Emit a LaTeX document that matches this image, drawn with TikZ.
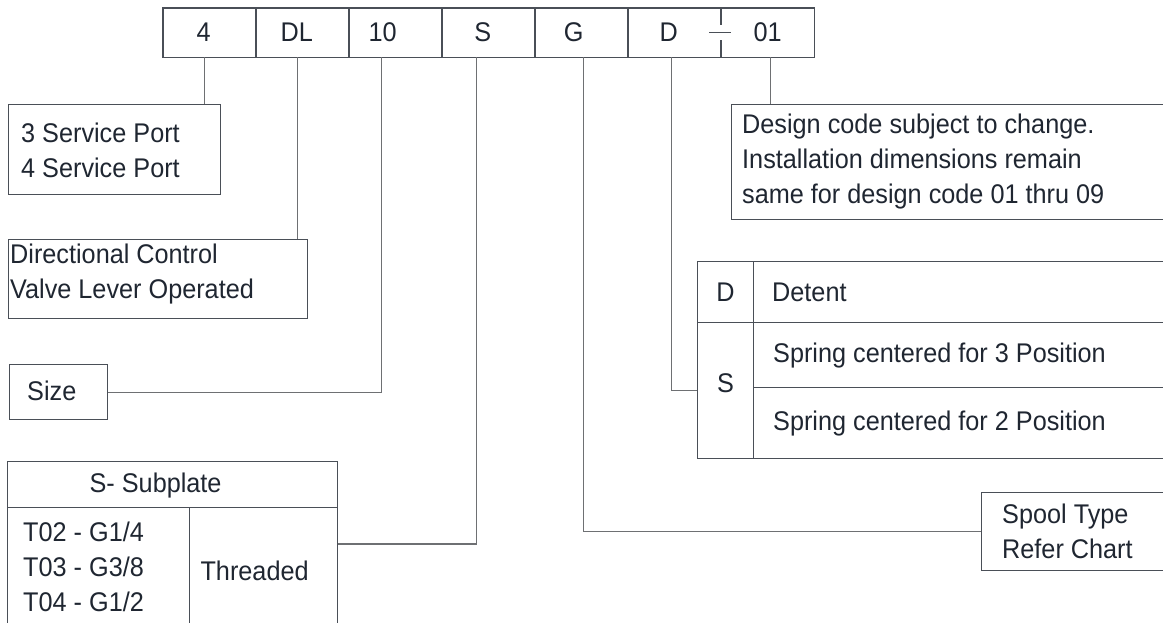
\documentclass[tikz,border=0pt]{standalone}
\usepackage{fontspec}
\usepackage{tikz}
\newfontfamily\tagfamily{Liberation Sans}[FakeStretch=0.935]
\newcommand{\tagfont}{\tagfamily\fontsize{27}{35}\selectfont}
\definecolor{ink}{HTML}{1F2631}
\definecolor{edge}{HTML}{4A4F57}
\definecolor{wire}{HTML}{6E7073}

\begin{document}
\begin{tikzpicture}[x=1pt, y=-1pt, every node/.style={font=\tagfont, text=ink},
  box/.style={draw=edge, line width=1.2pt, inner sep=0pt, anchor=north west},
  cell/.style={minimum width=93pt, minimum height=49pt, inner sep=0pt, anchor=north west},
  lead/.style={draw=wire, line width=1.2pt},
  txt/.style={align=left, anchor=west, inner sep=0pt}]
  \useasboundingbox (0,0) rectangle (1163,623);

  % ordering code strip
  \foreach \i/\code/\dx/\tx in {1/4/-6/-5.5, 2/DL/-6/-5.5, 3/10/-13/-14.5, 4/S/-6/-12.5,
                                5/G/-8/1.5, 6/D/-6/-3.5, 7/01/0/2.5} {
    \node[cell] (c\i) at ({163+93*(\i-1)},8) {};
    \node (k\i) at ([xshift=\dx pt]c\i.center) {\code};
    \coordinate (t\i) at ([xshift=\tx pt]c\i.south);
  }
  \draw[edge, line width=1.2pt] (c1.north west) rectangle (c7.south east);
  \foreach \i in {2,...,6}
    \draw[edge, line width=1.2pt] (c\i.north west) -- (c\i.south west);
  \draw[edge, line width=1.2pt] (c7.north west) -- ++(0,17) (c7.south west) -- ++(0,-17)
    ([xshift=-12pt]c7.west) -- ([xshift=10pt]c7.west);

  % left side
  \node[box, minimum width=212pt, minimum height=90pt] (ports) at (8,104) {};
  \node[txt] (portsTxt) at ([xshift=13pt, yshift=-1pt]ports.west) {3 Service Port\\4 Service Port};
  \node[box, minimum width=299pt, minimum height=79pt] (valve) at (8,239) {};
  \node[txt] (valveTxt) at ([xshift=2pt, yshift=5pt]valve.west) {Directional Control\\Valve Lever Operated};
  \node[box, minimum width=98pt, minimum height=55pt] (size) at (9,364) {};
  \node[txt] (sizeTxt) at ([xshift=18pt, yshift=1pt]size.west) {Size};

  % subplate table
  \node[box, minimum width=330pt, minimum height=46pt] (head) at (7,461) {};
  \node (headTxt) at ([xshift=-17pt, yshift=-1pt]head.center) {S- Subplate};
  \node[box, minimum width=182pt, minimum height=130pt] (sizes) at (7,507) {};
  \node[txt] (sizesTxt) at ([xshift=16pt, yshift=6pt]sizes.west) {T02 - G1/4\\T03 - G3/8\\T04 - G1/2};
  \node[box, minimum width=148pt, minimum height=130pt] (thr) at (189,507) {};
  \node (thrTxt) at ([xshift=-9pt, yshift=2pt]thr.center) {Threaded};

  % right side, open to the page edge
  \node[box, minimum width=434pt, minimum height=115pt] (note) at (731,104) {};
  \node[txt] (noteTxt) at ([xshift=11pt, yshift=1pt]note.west)
    {Design code subject to change.\\Installation dimensions remain\\same for design code 01 thru 09};
  \node[box, minimum width=56pt, minimum height=61pt] (dKey) at (697,261) {D};
  \node[box, minimum width=412pt, minimum height=61pt] (dTxt) at (753,261) {};
  \node[txt] (detent) at ([xshift=19pt]dTxt.west) {Detent};
  \node[box, minimum width=56pt, minimum height=136pt] (sKey) at (697,322) {};
  \node (sKeyTxt) at ([yshift=7pt]sKey.center) {S};
  \node[box, minimum width=412pt, minimum height=65pt] (s3) at (753,322) {};
  \node[txt] (s3Txt) at ([xshift=20pt]s3.west) {Spring centered for 3 Position};
  \node[box, minimum width=412pt, minimum height=71pt] (s2) at (753,387) {};
  \node[txt] (s2Txt) at ([xshift=20pt]s2.west) {Spring centered for 2 Position};
  \node[box, minimum width=184pt, minimum height=78pt] (spool) at (981,492) {};
  \node[txt] (spoolTxt) at ([xshift=21pt]spool.west) {Spool Type\\Refer Chart};

  % leaders
  \draw[lead] (t1) -- (t1 |- ports.north);
  \draw[lead] (t2) -- (t2 |- valve.north);
  \draw[lead] (t3) |- (size.east);
  \draw[lead] (t4) |- ([yshift=-37pt]thr.north east);
  \draw[lead] (t5) |- (spool.west);
  \draw[lead] (t6) |- (sKey.west);
  \draw[lead] (t7) -- (t7 |- note.north);
\end{tikzpicture}
\end{document}
